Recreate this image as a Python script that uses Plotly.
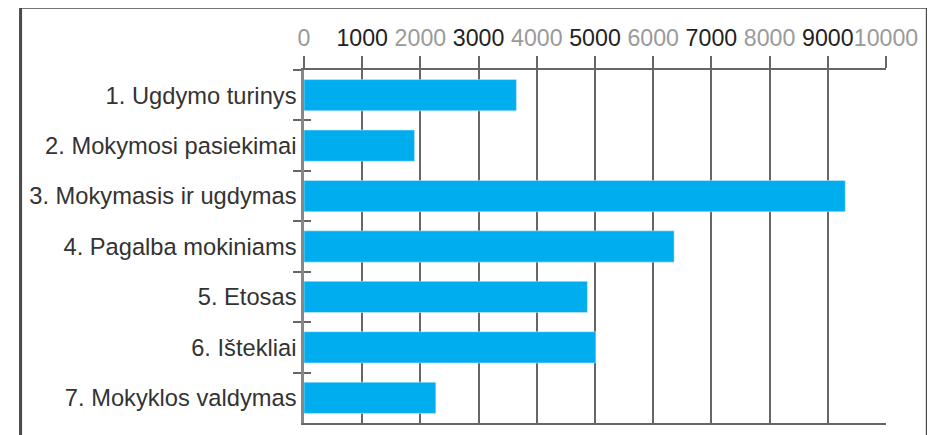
import plotly.graph_objects as go

categories = [
    "1. Ugdymo turinys",
    "2. Mokymosi pasiekimai",
    "3. Mokymasis ir ugdymas",
    "4. Pagalba mokiniams",
    "5. Etosas",
    "6. Ištekliai",
    "7. Mokyklos valdymas",
]
values = [3650, 1900, 9300, 6360, 4870, 5010, 2265]
tick_values = [0, 1000, 2000, 3000, 4000, 5000, 6000, 7000, 8000, 9000, 10000]
tick_colors = ["#9a9a9a", "#222222"] * 5 + ["#9a9a9a"]

tick_text = [f'<span style="color:{c}">{v}</span>' for v, c in zip(tick_values, tick_colors)]

FONT = "Liberation Sans, Arial, Helvetica, sans-serif"
BAR = "#00AEEF"
LINE = "#666666"

fig = go.Figure()
fig.add_trace(go.Bar(
    x=values, y=categories, orientation="h",
    marker=dict(color=BAR, line=dict(width=0)),
    width=0.62, showlegend=False, hoverinfo="x+y",
    xaxis="x", yaxis="y",
))
# invisible copy on the overlay axis so its inside ticks are drawn
fig.add_trace(go.Bar(
    x=values, y=categories, orientation="h",
    marker=dict(color="rgba(0,0,0,0)"),
    width=0.62, showlegend=False, hoverinfo="skip",
    xaxis="x", yaxis="y2",
))

cat_range = [len(categories) - 0.5, -0.5]

fig.update_layout(
    width=927, height=427,
    margin=dict(l=295.5, r=49.3, t=62, b=12, pad=0),
    paper_bgcolor="white", plot_bgcolor="white",
    font=dict(family=FONT, color="#333333"),
    bargap=0.37,
    xaxis=dict(
        side="top", range=[0, 10000],
        tickmode="array", tickvals=tick_values, ticktext=tick_text,
        tickfont=dict(size=23.2, family=FONT), tickangle=0,
        ticks="outside", ticklen=12, tickwidth=1.5, tickcolor=LINE,
        showgrid=True, gridcolor=LINE, gridwidth=1.5,
        showline=True, linecolor=LINE, linewidth=1.5, mirror=True,
        zeroline=False, ticklabelstandoff=1, automargin=False,
    ),
    yaxis=dict(
        type="category", categoryorder="array", categoryarray=categories,
        range=cat_range, tickson="boundaries",
        ticks="outside", ticklen=8, tickwidth=1.5, tickcolor=LINE,
        tickfont=dict(size=23.7, family=FONT, color="#333333"),
        showline=True, linecolor="#888888", linewidth=2.5,
        showgrid=False, zeroline=False, automargin=False,
    ),
    yaxis2=dict(
        type="category", categoryorder="array", categoryarray=categories,
        range=cat_range, tickson="boundaries", overlaying="y", side="left",
        ticks="inside", ticklen=7, tickwidth=1.5, tickcolor=LINE,
        showticklabels=False, showline=False, showgrid=False, zeroline=False,
        automargin=False,
    ),
    shapes=[dict(
        type="rect", xref="paper", yref="paper",
        x0=-0.487, x1=1.071, y0=-0.2, y1=1.178,
        line=dict(color="#4a4a4a", width=3), fillcolor="rgba(0,0,0,0)",
        layer="above",
    )],
)

fig.write_html("out.html")
